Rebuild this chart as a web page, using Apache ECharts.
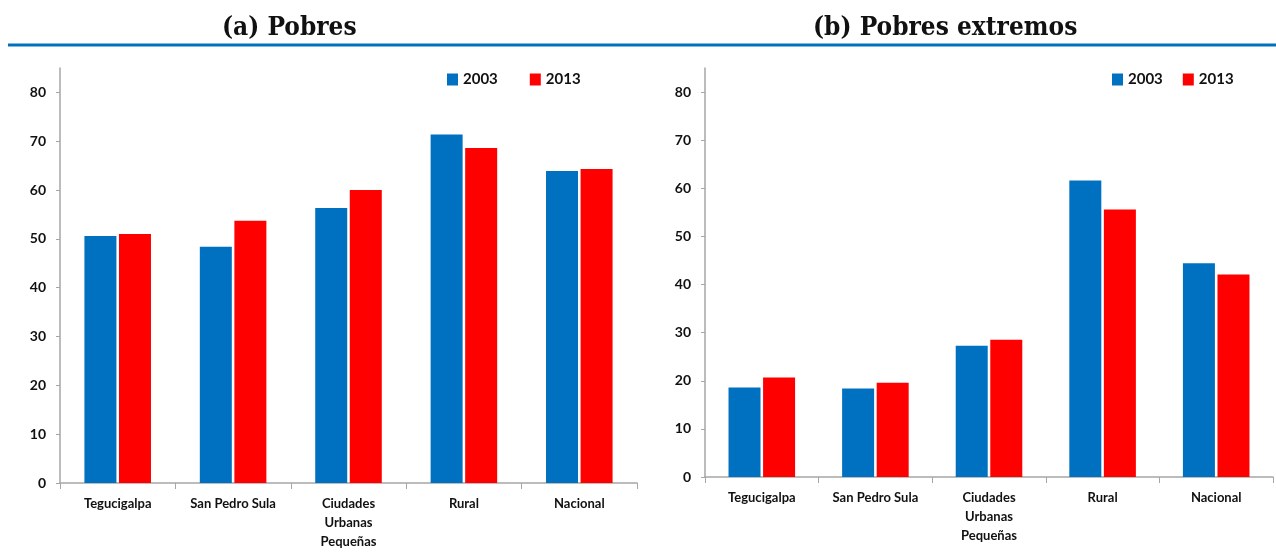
<!DOCTYPE html>
<html>
<head>
<meta charset="utf-8">
<script src="https://cdn.jsdelivr.net/npm/echarts@6/dist/echarts.min.js"></script>
<style>
  html, body { margin: 0; padding: 0; background: #fff; }
  #chart { width: 1276px; height: 557px; }
</style>
</head>
<body>
<div id="chart"></div>
<script>
const categories = ['Tegucigalpa', 'San Pedro Sula', 'Ciudades\nUrbanas\nPequeñas', 'Rural', 'Nacional']
const years = ['2003', '2013']

// (a) Pobres
const pobres2003 = [50.6, 48.4, 56.3, 71.4, 63.9]
const pobres2013 = [51.0, 53.7, 60.0, 68.6, 64.3]

// (b) Pobres extremos
const extremos2003 = [18.6, 18.4, 27.3, 61.6, 44.4]
const extremos2013 = [20.7, 19.6, 28.5, 55.6, 42.1]

const blue = '#0070c0'
const red = '#ff0000'
const axisGrey = '#a6a6a6'
const font = "Lato, 'Open Sans', sans-serif"

const chart = echarts.init(document.getElementById('chart'))

const xAxisBase = (gridIndex) => ({
  type: 'category',
  gridIndex: gridIndex,
  data: categories,
  axisLine: { lineStyle: { color: axisGrey, width: 1.5 } },
  axisTick: { show: true, length: 6, lineStyle: { color: axisGrey } },
  axisLabel: {
    color: '#111',
    fontFamily: font,
    fontWeight: 'bold',
    fontSize: 13,
    lineHeight: 19,
    margin: 11,
    interval: 0
  }
})

const yAxisBase = (gridIndex) => ({
  type: 'value',
  gridIndex: gridIndex,
  min: 0,
  max: 85,
  interval: 10,
  axisLine: { show: true, lineStyle: { color: axisGrey, width: 1.5 } },
  axisTick: { show: true, length: 4, lineStyle: { color: axisGrey } },
  splitLine: { show: false },
  axisLabel: {
    showMaxLabel: false,
    color: '#111',
    fontFamily: font,
    fontWeight: 'bold',
    fontSize: 14,
    margin: 14
  }
})

const barSeries = (name, data, color, idx) => ({
  name: name,
  type: 'bar',
  xAxisIndex: idx,
  yAxisIndex: idx,
  data: data,
  barWidth: 32,
  barGap: '8%',
  itemStyle: { color: color },
  emphasis: { disabled: true }
})

const legendBase = (left, gap) => ({
  data: years,
  left: left,
  top: 67,
  itemWidth: 11,
  itemHeight: 12,
  itemGap: gap,
  icon: 'rect',
  textStyle: { fontFamily: font, fontWeight: 'bold', fontSize: 15, color: '#111' }
})

chart.setOption({
  animation: false,
  color: [blue, red],
  grid: [
    { left: 60, right: 639, top: 68, bottom: 74 },
    { left: 705, right: 3, top: 68, bottom: 80 }
  ],
  xAxis: [xAxisBase(0), xAxisBase(1)],
  yAxis: [yAxisBase(0), yAxisBase(1)],
  legend: [legendBase(442, 32), legendBase(1107, 20)],
  series: [
    barSeries(years[0], pobres2003, blue, 0),
    barSeries(years[1], pobres2013, red, 0),
    barSeries(years[0], extremos2003, blue, 1),
    barSeries(years[1], extremos2013, red, 1)
  ],
  graphic: [
    {
      type: 'text',
      left: 222,
      top: 15,
      style: {
        text: '(a) Pobres',
        font: "bold 26px 'DejaVu Serif Condensed', 'Liberation Serif', serif",
        fill: '#111'
      }
    },
    {
      type: 'text',
      left: 813,
      top: 15,
      style: {
        text: '(b) Pobres extremos',
        font: "bold 26px 'DejaVu Serif Condensed', 'Liberation Serif', serif",
        fill: '#111'
      }
    },
    {
      type: 'line',
      shape: { x1: 8, y1: 45, x2: 1276, y2: 45 },
      style: { stroke: blue, lineWidth: 3 }
    }
  ]
})
</script>
</body>
</html>
